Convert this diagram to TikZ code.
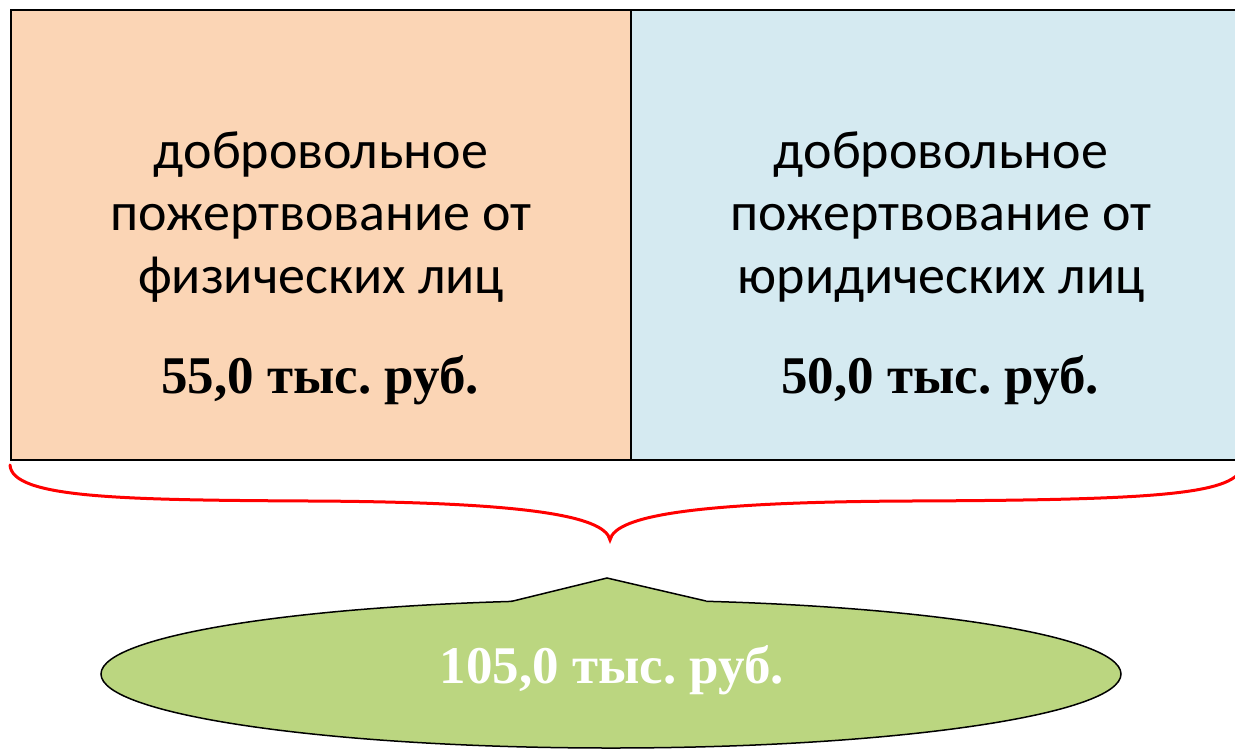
\documentclass[tikz,border=0pt]{standalone}
\usepackage{fontspec}
\setmainfont{Liberation Serif}
\newfontfamily\bodyfont{Carlito}
\usetikzlibrary{shapes.geometric}
\frenchspacing
\definecolor{peach}{HTML}{FBD5B5}
\definecolor{paleblue}{HTML}{D5EAF1}
\definecolor{leaf}{HTML}{BBD680}
\tikzset{
  box/.style={draw=black, line width=1.5pt, minimum width=620pt, minimum height=450pt, inner sep=0pt},
  label/.style={font=\bodyfont\fontsize{54}{62.5}\selectfont, align=center, anchor=base, inner sep=0pt},
  sum/.style={font=\frenchspacing\bfseries\fontsize{53}{60}\selectfont, anchor=base, inner sep=0pt},
  brace/.style={draw=red, line width=3pt, line cap=round},
}
\begin{document}
\begin{tikzpicture}[x=1pt,y=-1pt]
\useasboundingbox (0,0) rectangle (1235,748);
\node[box, fill=peach] (lbox) at (321,235) {};
\node[box, fill=paleblue] (rbox) at (941,235) {};
\node[label] (ltext) at (321,293) {добровольное\\пожертвование от\\физических лиц};
\node[label] (rtext) at (941,293) {добровольное\\пожертвование от\\юридических лиц};
\node[sum] (lsum) at (320,393) {55,0 тыс. руб.};
\node[sum] (rsum) at (940,393) {50,0 тыс. руб.};
% brace
\coordinate (bl) at (10,465);
\coordinate (tip) at (610,540);
\coordinate (br) at (1242,468);
\draw[brace] (bl) .. controls (12,498) and (120,500) .. (310,501)
  .. controls (520,502) and (605,515) .. (tip)
  .. controls (615,515) and (700,502) .. (910,501)
  .. controls (1150,500) and (1232,495) .. (br);
% callout ellipse
\node[ellipse, draw=black, line width=1.5pt, fill=leaf, minimum width=1020pt, minimum height=148pt, inner sep=0pt] (oval) at (611,674) {};
\coordinate (wl) at (511,601.5);
\coordinate (wt) at (607,578);
\coordinate (wr) at (706,601);
\fill[leaf] (wl) -- (wt) -- (wr) -- (706,606) -- (511,606) -- cycle;
\draw[black, line width=1.5pt, line join=miter] (wl) -- (wt) -- (wr);
\node[sum, text=white] (total) at (612,683) {105,0 тыс. руб.};
\end{tikzpicture}
\end{document}
